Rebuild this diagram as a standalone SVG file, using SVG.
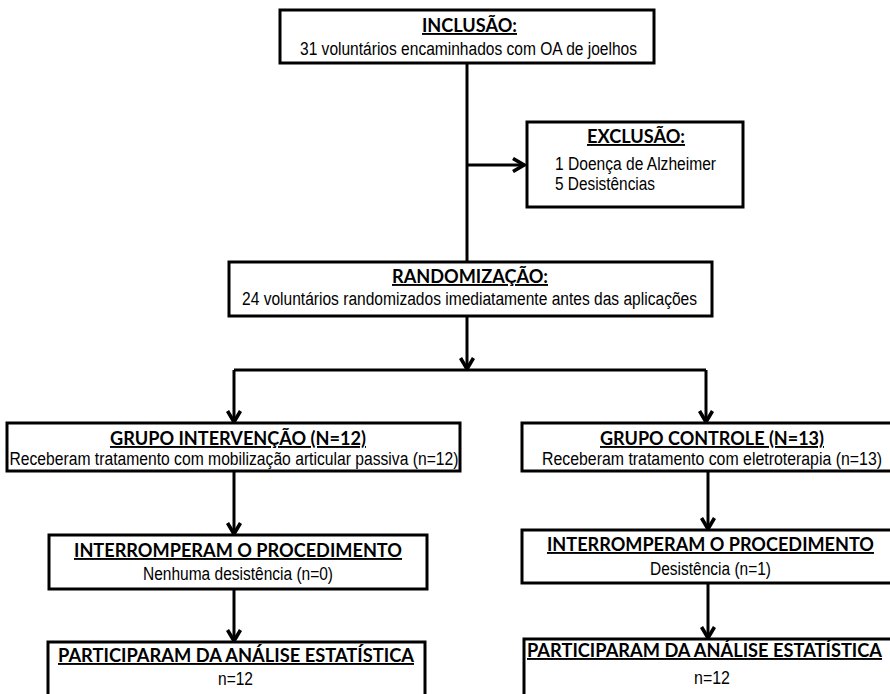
<svg xmlns="http://www.w3.org/2000/svg" width="890" height="694" viewBox="0 0 890 694">
<defs>
<style>
.box{fill:#fff;stroke:#000;stroke-width:3}
.t{font-family:Lato,"Open Sans","Liberation Sans",sans-serif;font-weight:bold;font-size:19px;text-decoration:underline;fill:#000}
.b{font-family:"Liberation Sans Narrow","Liberation Sans",Arial,sans-serif;font-size:18px;fill:#000}
.c{text-anchor:middle}
.ln{fill:none;stroke:#000;stroke-width:3}
</style>
<marker id="ah" viewBox="0 0 16 16" refX="14" refY="8" markerWidth="16" markerHeight="16" markerUnits="userSpaceOnUse" orient="auto">
<polyline points="3,1.5 14,8 3,14.5" fill="none" stroke="#000" stroke-width="3.6"/>
</marker>
</defs>
<rect width="890" height="694" fill="#fff"/>
<g id="connectors">
<line class="ln" x1="467" y1="63" x2="467" y2="262"/>
<line class="ln" x1="467" y1="165" x2="524" y2="165" marker-end="url(#ah)"/>
<line class="ln" x1="467" y1="316" x2="467" y2="369" marker-end="url(#ah)"/>
<polyline class="ln" points="234,370 706,370"/>
<line class="ln" x1="234" y1="370" x2="234" y2="422" marker-end="url(#ah)"/>
<line class="ln" x1="706" y1="370" x2="706" y2="422" marker-end="url(#ah)"/>
<line class="ln" x1="234" y1="471" x2="234" y2="534" marker-end="url(#ah)"/>
<line class="ln" x1="234" y1="589" x2="234" y2="641" marker-end="url(#ah)"/>
<line class="ln" x1="708" y1="471" x2="708" y2="529" marker-end="url(#ah)"/>
<line class="ln" x1="708" y1="583" x2="708" y2="638" marker-end="url(#ah)"/>
</g>
<g id="inclusao">
<rect class="box" x="280" y="10" width="374" height="53"/>
<text class="t c" x="469.5" y="32" textLength="95" lengthAdjust="spacingAndGlyphs">INCLUSÃO:</text>
<text class="b c" x="468.5" y="55" textLength="337" lengthAdjust="spacingAndGlyphs">31 voluntários encaminhados com OA de joelhos</text>
</g>
<g id="exclusao">
<rect class="box" x="527" y="122" width="216" height="85"/>
<text class="t c" x="636" y="143" textLength="98" lengthAdjust="spacingAndGlyphs">EXCLUSÃO:</text>
<text class="b" x="555" y="170" textLength="161" lengthAdjust="spacingAndGlyphs">1 Doença de Alzheimer</text>
<text class="b" x="555" y="190" textLength="100" lengthAdjust="spacingAndGlyphs">5 Desistências</text>
</g>
<g id="randomizacao">
<rect class="box" x="229" y="262" width="483" height="54"/>
<text class="t c" x="470" y="283" textLength="156" lengthAdjust="spacingAndGlyphs">RANDOMIZAÇÃO:</text>
<text class="b c" x="469.5" y="305" textLength="455" lengthAdjust="spacingAndGlyphs">24 voluntários randomizados imediatamente antes das aplicações</text>
</g>
<g id="grupo-intervencao">
<rect class="box" x="7" y="423" width="453" height="48"/>
<text class="t c" x="238" y="445" textLength="256" lengthAdjust="spacingAndGlyphs">GRUPO INTERVENÇÃO (N=12)</text>
<text class="b c" x="234" y="465" textLength="449" lengthAdjust="spacingAndGlyphs">Receberam tratamento com mobilização articular passiva (n=12)</text>
</g>
<g id="grupo-controle">
<rect class="box" x="522" y="423" width="372" height="48"/>
<text class="t c" x="712" y="445" textLength="224" lengthAdjust="spacingAndGlyphs">GRUPO CONTROLE (N=13)</text>
<text class="b c" x="712" y="465" textLength="340" lengthAdjust="spacingAndGlyphs">Receberam tratamento com eletroterapia (n=13)</text>
</g>
<g id="interromperam-intervencao">
<rect class="box" x="49" y="535" width="378" height="54"/>
<text class="t c" x="238" y="557" textLength="328" lengthAdjust="spacingAndGlyphs">INTERROMPERAM O PROCEDIMENTO</text>
<text class="b c" x="238" y="580" textLength="190" lengthAdjust="spacingAndGlyphs">Nenhuma desistência (n=0)</text>
</g>
<g id="interromperam-controle">
<rect class="box" x="522" y="530" width="372" height="53"/>
<text class="t c" x="710.5" y="551" textLength="327" lengthAdjust="spacingAndGlyphs">INTERROMPERAM O PROCEDIMENTO</text>
<text class="b c" x="710.5" y="575" textLength="121" lengthAdjust="spacingAndGlyphs">Desistência (n=1)</text>
</g>
<g id="participaram-intervencao">
<rect class="box" x="48" y="642" width="377" height="60"/>
<text class="t c" x="236" y="662" textLength="356" lengthAdjust="spacingAndGlyphs">PARTICIPARAM DA ANÁLISE ESTATÍSTICA</text>
<text class="b c" x="235.5" y="685" textLength="35" lengthAdjust="spacingAndGlyphs">n=12</text>
</g>
<g id="participaram-controle">
<rect class="box" x="524" y="639" width="370" height="60"/>
<text class="t" x="527" y="657" textLength="355" lengthAdjust="spacingAndGlyphs">PARTICIPARAM DA ANÁLISE ESTATÍSTICA</text>
<text class="b c" x="712" y="684" textLength="36" lengthAdjust="spacingAndGlyphs">n=12</text>
</g>
</svg>
